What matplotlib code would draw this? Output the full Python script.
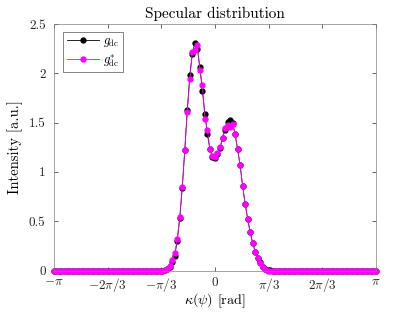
import numpy as np
import matplotlib
matplotlib.use("Agg")
import matplotlib.pyplot as plt

plt.rcParams['font.family'] = ['cmr10', 'DejaVu Serif']
plt.rcParams['mathtext.fontset'] = 'cm'
plt.rcParams['axes.formatter.use_mathtext'] = True

# angle grid (129 samples over [-pi, pi]); signal is non-zero only for indices 44..86
kappa = np.linspace(-np.pi, np.pi, 129)
start = 44

g_dc = [0.005, 0.018, 0.040, 0.090, 0.150, 0.300, 0.530, 0.840, 1.220, 1.630,
        1.980, 2.200, 2.310, 2.250, 2.060, 1.820, 1.587, 1.380, 1.230, 1.148,
        1.141, 1.180, 1.245, 1.345, 1.430, 1.510, 1.526, 1.500, 1.384, 1.229,
        1.067, 0.857, 0.674, 0.522, 0.387, 0.276, 0.191, 0.124, 0.082, 0.040,
        0.020, 0.008, 0.003]
g_dc_star = [0.005, 0.018, 0.046, 0.106, 0.174, 0.316, 0.546, 0.844, 1.222, 1.610,
             1.940, 2.216, 2.236, 2.290, 2.033, 1.878, 1.540, 1.425, 1.229, 1.164,
             1.154, 1.189, 1.249, 1.342, 1.445, 1.476, 1.455, 1.486, 1.384, 1.229,
             1.067, 0.857, 0.674, 0.522, 0.387, 0.276, 0.191, 0.124, 0.079, 0.032,
             0.012, 0.000, 0.000]

y1 = np.zeros(len(kappa))
y1[start:start + len(g_dc)] = g_dc
y2 = np.zeros(len(kappa))
y2[start:start + len(g_dc_star)] = g_dc_star

xticks = [-np.pi, -2 * np.pi / 3, -np.pi / 3, 0, np.pi / 3, 2 * np.pi / 3, np.pi]
xticklabels = [r'$-\pi$', r'$-2\pi/3$', r'$-\pi/3$', r'$0$', r'$\pi/3$', r'$2\pi/3$', r'$\pi$']
yticks = [0, 0.5, 1, 1.5, 2, 2.5]

fig = plt.figure(figsize=(4.15, 3.12), dpi=100)
ax = fig.add_axes([0.130, 0.133, 0.776, 0.790])

ax.plot(kappa, y1, '-o', color='black', lw=0.6, ms=3.5, label=r'$g_{\rm dc}$', clip_on=False)
ax.plot(kappa, y2, '-o', color='magenta', lw=0.6, ms=3.5, label=r'$g^{*}_{\rm dc}$', clip_on=False)

ax.set_xlim(-np.pi, np.pi)
ax.set_ylim(0, 2.5)
ax.set_xticks(xticks)
ax.set_xticklabels(xticklabels)
ax.set_yticks(yticks)
ax.set_yticklabels(['0', '0.5', '1', '1.5', '2', '2.5'])
ax.tick_params(direction='in', top=True, right=True, length=3, width=0.5,
               colors='#262626', labelsize=9.5)
ax.tick_params(axis='x', pad=4)
ax.tick_params(axis='y', pad=6)
for s in ax.spines.values():
    s.set_linewidth(0.5)
    s.set_color('#808080')

ax.set_title('Specular distribution', fontsize=11, pad=4)
ax.set_xlabel(r'$\kappa(\psi)$ [rad]', fontsize=10.2)
ax.xaxis.set_label_coords(0.5, -0.085)
ax.set_ylabel('Intensity [a.u.]', fontsize=10.5, labelpad=4)

leg = ax.legend(loc='upper left', fontsize=9, fancybox=False, edgecolor='#262626',
                handlelength=2.6, borderpad=0.3, labelspacing=0.2,
                handletextpad=0.3, borderaxespad=0.6,
                bbox_to_anchor=(0.005, 1.0))
leg.get_frame().set_linewidth(0.5)

fig.savefig('out.png', dpi=100)
